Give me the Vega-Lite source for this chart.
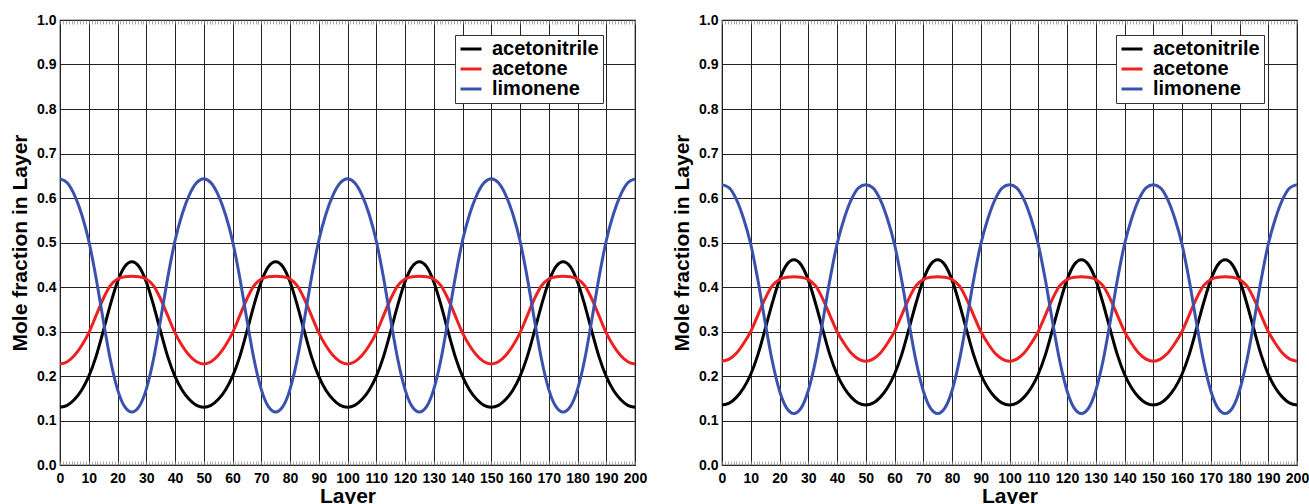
{
  "$schema": "https://vega.github.io/schema/vega-lite/v6.json",
  "padding": {"left": 8, "top": 12, "right": 5, "bottom": 2},
  "bounds": "flush",
  "spacing": 87,
  "background": "white",
  "config": {
    "font": "Liberation Sans",
    "view": {"stroke": "#000", "strokeWidth": 1.2},
    "axis": {
      "gridColor": "#222", "gridWidth": 1, "gridOpacity": 1,
      "labelColor": "#000", "titleColor": "#000",
      "labelFontWeight": "bold", "titleFontWeight": "bold",
      "labelFont": "Liberation Sans", "labelFontSize": 14,
      "titleFont": "Liberation Sans", "titleFontSize": 21, "domain": false
    }
  },
  "datasets": {
    "left": [
      {"layer":0,"acetonitrile":0.13,"acetone":0.227,"limonene":0.643},
      {"layer":2.5,"acetonitrile":0.134,"acetone":0.232,"limonene":0.634},
      {"layer":5,"acetonitrile":0.147,"acetone":0.246,"limonene":0.607},
      {"layer":7.5,"acetonitrile":0.168,"acetone":0.268,"limonene":0.564},
      {"layer":10,"acetonitrile":0.199,"acetone":0.297,"limonene":0.504},
      {"layer":12.5,"acetonitrile":0.243,"acetone":0.335,"limonene":0.422},
      {"layer":15,"acetonitrile":0.3,"acetone":0.373,"limonene":0.327},
      {"layer":17.5,"acetonitrile":0.36,"acetone":0.403,"limonene":0.237},
      {"layer":20,"acetonitrile":0.412,"acetone":0.418,"limonene":0.17},
      {"layer":22.5,"acetonitrile":0.446,"acetone":0.423,"limonene":0.131},
      {"layer":25,"acetonitrile":0.457,"acetone":0.424,"limonene":0.119},
      {"layer":27.5,"acetonitrile":0.446,"acetone":0.423,"limonene":0.131},
      {"layer":30,"acetonitrile":0.412,"acetone":0.418,"limonene":0.17},
      {"layer":32.5,"acetonitrile":0.36,"acetone":0.403,"limonene":0.237},
      {"layer":35,"acetonitrile":0.3,"acetone":0.373,"limonene":0.327},
      {"layer":37.5,"acetonitrile":0.243,"acetone":0.335,"limonene":0.422},
      {"layer":40,"acetonitrile":0.199,"acetone":0.297,"limonene":0.504},
      {"layer":42.5,"acetonitrile":0.168,"acetone":0.268,"limonene":0.564},
      {"layer":45,"acetonitrile":0.147,"acetone":0.246,"limonene":0.607},
      {"layer":47.5,"acetonitrile":0.134,"acetone":0.232,"limonene":0.634},
      {"layer":50,"acetonitrile":0.13,"acetone":0.227,"limonene":0.643},
      {"layer":52.5,"acetonitrile":0.134,"acetone":0.232,"limonene":0.634},
      {"layer":55,"acetonitrile":0.147,"acetone":0.246,"limonene":0.607},
      {"layer":57.5,"acetonitrile":0.168,"acetone":0.268,"limonene":0.564},
      {"layer":60,"acetonitrile":0.199,"acetone":0.297,"limonene":0.504},
      {"layer":62.5,"acetonitrile":0.243,"acetone":0.335,"limonene":0.422},
      {"layer":65,"acetonitrile":0.3,"acetone":0.373,"limonene":0.327},
      {"layer":67.5,"acetonitrile":0.36,"acetone":0.403,"limonene":0.237},
      {"layer":70,"acetonitrile":0.412,"acetone":0.418,"limonene":0.17},
      {"layer":72.5,"acetonitrile":0.446,"acetone":0.423,"limonene":0.131},
      {"layer":75,"acetonitrile":0.457,"acetone":0.424,"limonene":0.119},
      {"layer":77.5,"acetonitrile":0.446,"acetone":0.423,"limonene":0.131},
      {"layer":80,"acetonitrile":0.412,"acetone":0.418,"limonene":0.17},
      {"layer":82.5,"acetonitrile":0.36,"acetone":0.403,"limonene":0.237},
      {"layer":85,"acetonitrile":0.3,"acetone":0.373,"limonene":0.327},
      {"layer":87.5,"acetonitrile":0.243,"acetone":0.335,"limonene":0.422},
      {"layer":90,"acetonitrile":0.199,"acetone":0.297,"limonene":0.504},
      {"layer":92.5,"acetonitrile":0.168,"acetone":0.268,"limonene":0.564},
      {"layer":95,"acetonitrile":0.147,"acetone":0.246,"limonene":0.607},
      {"layer":97.5,"acetonitrile":0.134,"acetone":0.232,"limonene":0.634},
      {"layer":100,"acetonitrile":0.13,"acetone":0.227,"limonene":0.643},
      {"layer":102.5,"acetonitrile":0.134,"acetone":0.232,"limonene":0.634},
      {"layer":105,"acetonitrile":0.147,"acetone":0.246,"limonene":0.607},
      {"layer":107.5,"acetonitrile":0.168,"acetone":0.268,"limonene":0.564},
      {"layer":110,"acetonitrile":0.199,"acetone":0.297,"limonene":0.504},
      {"layer":112.5,"acetonitrile":0.243,"acetone":0.335,"limonene":0.422},
      {"layer":115,"acetonitrile":0.3,"acetone":0.373,"limonene":0.327},
      {"layer":117.5,"acetonitrile":0.36,"acetone":0.403,"limonene":0.237},
      {"layer":120,"acetonitrile":0.412,"acetone":0.418,"limonene":0.17},
      {"layer":122.5,"acetonitrile":0.446,"acetone":0.423,"limonene":0.131},
      {"layer":125,"acetonitrile":0.457,"acetone":0.424,"limonene":0.119},
      {"layer":127.5,"acetonitrile":0.446,"acetone":0.423,"limonene":0.131},
      {"layer":130,"acetonitrile":0.412,"acetone":0.418,"limonene":0.17},
      {"layer":132.5,"acetonitrile":0.36,"acetone":0.403,"limonene":0.237},
      {"layer":135,"acetonitrile":0.3,"acetone":0.373,"limonene":0.327},
      {"layer":137.5,"acetonitrile":0.243,"acetone":0.335,"limonene":0.422},
      {"layer":140,"acetonitrile":0.199,"acetone":0.297,"limonene":0.504},
      {"layer":142.5,"acetonitrile":0.168,"acetone":0.268,"limonene":0.564},
      {"layer":145,"acetonitrile":0.147,"acetone":0.246,"limonene":0.607},
      {"layer":147.5,"acetonitrile":0.134,"acetone":0.232,"limonene":0.634},
      {"layer":150,"acetonitrile":0.13,"acetone":0.227,"limonene":0.643},
      {"layer":152.5,"acetonitrile":0.134,"acetone":0.232,"limonene":0.634},
      {"layer":155,"acetonitrile":0.147,"acetone":0.246,"limonene":0.607},
      {"layer":157.5,"acetonitrile":0.168,"acetone":0.268,"limonene":0.564},
      {"layer":160,"acetonitrile":0.199,"acetone":0.297,"limonene":0.504},
      {"layer":162.5,"acetonitrile":0.243,"acetone":0.335,"limonene":0.422},
      {"layer":165,"acetonitrile":0.3,"acetone":0.373,"limonene":0.327},
      {"layer":167.5,"acetonitrile":0.36,"acetone":0.403,"limonene":0.237},
      {"layer":170,"acetonitrile":0.412,"acetone":0.418,"limonene":0.17},
      {"layer":172.5,"acetonitrile":0.446,"acetone":0.423,"limonene":0.131},
      {"layer":175,"acetonitrile":0.457,"acetone":0.424,"limonene":0.119},
      {"layer":177.5,"acetonitrile":0.446,"acetone":0.423,"limonene":0.131},
      {"layer":180,"acetonitrile":0.412,"acetone":0.418,"limonene":0.17},
      {"layer":182.5,"acetonitrile":0.36,"acetone":0.403,"limonene":0.237},
      {"layer":185,"acetonitrile":0.3,"acetone":0.373,"limonene":0.327},
      {"layer":187.5,"acetonitrile":0.243,"acetone":0.335,"limonene":0.422},
      {"layer":190,"acetonitrile":0.199,"acetone":0.297,"limonene":0.504},
      {"layer":192.5,"acetonitrile":0.168,"acetone":0.268,"limonene":0.564},
      {"layer":195,"acetonitrile":0.147,"acetone":0.246,"limonene":0.607},
      {"layer":197.5,"acetonitrile":0.134,"acetone":0.232,"limonene":0.634},
      {"layer":200,"acetonitrile":0.13,"acetone":0.227,"limonene":0.643}
    ],
    "right": [
      {"layer":0,"acetonitrile":0.135,"acetone":0.233,"limonene":0.63},
      {"layer":2.5,"acetonitrile":0.139,"acetone":0.238,"limonene":0.623},
      {"layer":5,"acetonitrile":0.152,"acetone":0.251,"limonene":0.597},
      {"layer":7.5,"acetonitrile":0.173,"acetone":0.273,"limonene":0.554},
      {"layer":10,"acetonitrile":0.204,"acetone":0.3,"limonene":0.496},
      {"layer":12.5,"acetonitrile":0.248,"acetone":0.337,"limonene":0.415},
      {"layer":15,"acetonitrile":0.305,"acetone":0.374,"limonene":0.321},
      {"layer":17.5,"acetonitrile":0.364,"acetone":0.403,"limonene":0.233},
      {"layer":20,"acetonitrile":0.416,"acetone":0.417,"limonene":0.167},
      {"layer":22.5,"acetonitrile":0.45,"acetone":0.422,"limonene":0.128},
      {"layer":25,"acetonitrile":0.461,"acetone":0.423,"limonene":0.116},
      {"layer":27.5,"acetonitrile":0.45,"acetone":0.422,"limonene":0.128},
      {"layer":30,"acetonitrile":0.416,"acetone":0.417,"limonene":0.167},
      {"layer":32.5,"acetonitrile":0.364,"acetone":0.403,"limonene":0.233},
      {"layer":35,"acetonitrile":0.305,"acetone":0.374,"limonene":0.321},
      {"layer":37.5,"acetonitrile":0.248,"acetone":0.337,"limonene":0.415},
      {"layer":40,"acetonitrile":0.204,"acetone":0.3,"limonene":0.496},
      {"layer":42.5,"acetonitrile":0.173,"acetone":0.273,"limonene":0.554},
      {"layer":45,"acetonitrile":0.152,"acetone":0.251,"limonene":0.597},
      {"layer":47.5,"acetonitrile":0.139,"acetone":0.238,"limonene":0.623},
      {"layer":50,"acetonitrile":0.135,"acetone":0.233,"limonene":0.63},
      {"layer":52.5,"acetonitrile":0.139,"acetone":0.238,"limonene":0.623},
      {"layer":55,"acetonitrile":0.152,"acetone":0.251,"limonene":0.597},
      {"layer":57.5,"acetonitrile":0.173,"acetone":0.273,"limonene":0.554},
      {"layer":60,"acetonitrile":0.204,"acetone":0.3,"limonene":0.496},
      {"layer":62.5,"acetonitrile":0.248,"acetone":0.337,"limonene":0.415},
      {"layer":65,"acetonitrile":0.305,"acetone":0.374,"limonene":0.321},
      {"layer":67.5,"acetonitrile":0.364,"acetone":0.403,"limonene":0.233},
      {"layer":70,"acetonitrile":0.416,"acetone":0.417,"limonene":0.167},
      {"layer":72.5,"acetonitrile":0.45,"acetone":0.422,"limonene":0.128},
      {"layer":75,"acetonitrile":0.461,"acetone":0.423,"limonene":0.116},
      {"layer":77.5,"acetonitrile":0.45,"acetone":0.422,"limonene":0.128},
      {"layer":80,"acetonitrile":0.416,"acetone":0.417,"limonene":0.167},
      {"layer":82.5,"acetonitrile":0.364,"acetone":0.403,"limonene":0.233},
      {"layer":85,"acetonitrile":0.305,"acetone":0.374,"limonene":0.321},
      {"layer":87.5,"acetonitrile":0.248,"acetone":0.337,"limonene":0.415},
      {"layer":90,"acetonitrile":0.204,"acetone":0.3,"limonene":0.496},
      {"layer":92.5,"acetonitrile":0.173,"acetone":0.273,"limonene":0.554},
      {"layer":95,"acetonitrile":0.152,"acetone":0.251,"limonene":0.597},
      {"layer":97.5,"acetonitrile":0.139,"acetone":0.238,"limonene":0.623},
      {"layer":100,"acetonitrile":0.135,"acetone":0.233,"limonene":0.63},
      {"layer":102.5,"acetonitrile":0.139,"acetone":0.238,"limonene":0.623},
      {"layer":105,"acetonitrile":0.152,"acetone":0.251,"limonene":0.597},
      {"layer":107.5,"acetonitrile":0.173,"acetone":0.273,"limonene":0.554},
      {"layer":110,"acetonitrile":0.204,"acetone":0.3,"limonene":0.496},
      {"layer":112.5,"acetonitrile":0.248,"acetone":0.337,"limonene":0.415},
      {"layer":115,"acetonitrile":0.305,"acetone":0.374,"limonene":0.321},
      {"layer":117.5,"acetonitrile":0.364,"acetone":0.403,"limonene":0.233},
      {"layer":120,"acetonitrile":0.416,"acetone":0.417,"limonene":0.167},
      {"layer":122.5,"acetonitrile":0.45,"acetone":0.422,"limonene":0.128},
      {"layer":125,"acetonitrile":0.461,"acetone":0.423,"limonene":0.116},
      {"layer":127.5,"acetonitrile":0.45,"acetone":0.422,"limonene":0.128},
      {"layer":130,"acetonitrile":0.416,"acetone":0.417,"limonene":0.167},
      {"layer":132.5,"acetonitrile":0.364,"acetone":0.403,"limonene":0.233},
      {"layer":135,"acetonitrile":0.305,"acetone":0.374,"limonene":0.321},
      {"layer":137.5,"acetonitrile":0.248,"acetone":0.337,"limonene":0.415},
      {"layer":140,"acetonitrile":0.204,"acetone":0.3,"limonene":0.496},
      {"layer":142.5,"acetonitrile":0.173,"acetone":0.273,"limonene":0.554},
      {"layer":145,"acetonitrile":0.152,"acetone":0.251,"limonene":0.597},
      {"layer":147.5,"acetonitrile":0.139,"acetone":0.238,"limonene":0.623},
      {"layer":150,"acetonitrile":0.135,"acetone":0.233,"limonene":0.63},
      {"layer":152.5,"acetonitrile":0.139,"acetone":0.238,"limonene":0.623},
      {"layer":155,"acetonitrile":0.152,"acetone":0.251,"limonene":0.597},
      {"layer":157.5,"acetonitrile":0.173,"acetone":0.273,"limonene":0.554},
      {"layer":160,"acetonitrile":0.204,"acetone":0.3,"limonene":0.496},
      {"layer":162.5,"acetonitrile":0.248,"acetone":0.337,"limonene":0.415},
      {"layer":165,"acetonitrile":0.305,"acetone":0.374,"limonene":0.321},
      {"layer":167.5,"acetonitrile":0.364,"acetone":0.403,"limonene":0.233},
      {"layer":170,"acetonitrile":0.416,"acetone":0.417,"limonene":0.167},
      {"layer":172.5,"acetonitrile":0.45,"acetone":0.422,"limonene":0.128},
      {"layer":175,"acetonitrile":0.461,"acetone":0.423,"limonene":0.116},
      {"layer":177.5,"acetonitrile":0.45,"acetone":0.422,"limonene":0.128},
      {"layer":180,"acetonitrile":0.416,"acetone":0.417,"limonene":0.167},
      {"layer":182.5,"acetonitrile":0.364,"acetone":0.403,"limonene":0.233},
      {"layer":185,"acetonitrile":0.305,"acetone":0.374,"limonene":0.321},
      {"layer":187.5,"acetonitrile":0.248,"acetone":0.337,"limonene":0.415},
      {"layer":190,"acetonitrile":0.204,"acetone":0.3,"limonene":0.496},
      {"layer":192.5,"acetonitrile":0.173,"acetone":0.273,"limonene":0.554},
      {"layer":195,"acetonitrile":0.152,"acetone":0.251,"limonene":0.597},
      {"layer":197.5,"acetonitrile":0.139,"acetone":0.238,"limonene":0.623},
      {"layer":200,"acetonitrile":0.135,"acetone":0.233,"limonene":0.63}
    ]
  },
  "hconcat": [
    {
      "width": 575, "height": 445,
      "data": {"name": "left"},
      "transform": [{"fold": ["acetonitrile", "acetone", "limonene"], "as": ["species", "fraction"]}],
      "layer": [
        {
          "mark": {"type": "line", "strokeWidth": 3, "interpolate": "monotone"},
          "encoding": {
            "x": {"field": "layer", "type": "quantitative", "scale": {"domain": [0, 200], "nice": false},
              "axis": {"title": "Layer", "values": [0,10,20,30,40,50,60,70,80,90,100,110,120,130,140,150,160,170,180,190,200],
                "labelOverlap": false, "labelFlush": false, "ticks": false, "labelPadding": 6, "titlePadding": 0}},
            "y": {"field": "fraction", "type": "quantitative", "scale": {"domain": [0, 1], "nice": false},
              "axis": {"title": "Mole fraction in Layer", "values": [0,0.1,0.2,0.3,0.4,0.5,0.6,0.7,0.8,0.9,1.0], "format": ".1f",
                "ticks": false, "labelPadding": 4, "titlePadding": 6, "labelFlush": false}},
            "color": {"field": "species", "type": "nominal",
              "scale": {"domain": ["acetonitrile", "acetone", "limonene"], "range": ["#000000", "#ee2020", "#3a52ae"]},
              "legend": {"title": null, "orient": "none", "legendX": 395, "legendY": 15,
                "labelFont": "Liberation Sans", "labelFontSize": 20, "labelFontWeight": "bold", "labelColor": "#000",
                "symbolType": "stroke", "symbolStrokeWidth": 3, "symbolSize": 441, "labelOffset": 9,
                "clipHeight": 20,
                "strokeColor": "#333", "fillColor": "#fff", "padding": 4, "rowPadding": 0, "labelLimit": 300}}
          }
        },
        {
          "mark": {"type": "point", "opacity": 0},
          "encoding": {
            "x": {"field": "layer", "type": "quantitative",
              "axis": {"orient": "top", "tickCount": 200, "labels": false, "grid": false, "title": null,
                "tickSize": -4, "tickColor": "#888", "tickWidth": 0.7}},
            "y": {"field": "fraction", "type": "quantitative"}
          }
        },
        {
          "mark": {"type": "point", "opacity": 0},
          "encoding": {
            "x": {"field": "layer", "type": "quantitative",
              "axis": {"orient": "bottom", "tickCount": 200, "labels": false, "grid": false, "title": null,
                "tickSize": -4, "tickColor": "#888", "tickWidth": 0.7}},
            "y": {"field": "fraction", "type": "quantitative"}
          }
        }
      ],
      "resolve": {"axis": {"x": "independent"}}
    },
    {
      "width": 575, "height": 445,
      "data": {"name": "right"},
      "transform": [{"fold": ["acetonitrile", "acetone", "limonene"], "as": ["species", "fraction"]}],
      "layer": [
        {
          "mark": {"type": "line", "strokeWidth": 3, "interpolate": "monotone"},
          "encoding": {
            "x": {"field": "layer", "type": "quantitative", "scale": {"domain": [0, 200], "nice": false},
              "axis": {"title": "Layer", "values": [0,10,20,30,40,50,60,70,80,90,100,110,120,130,140,150,160,170,180,190,200],
                "labelOverlap": false, "labelFlush": false, "ticks": false, "labelPadding": 6, "titlePadding": 0}},
            "y": {"field": "fraction", "type": "quantitative", "scale": {"domain": [0, 1], "nice": false},
              "axis": {"title": "Mole fraction in Layer", "values": [0,0.1,0.2,0.3,0.4,0.5,0.6,0.7,0.8,0.9,1.0], "format": ".1f",
                "ticks": false, "labelPadding": 4, "titlePadding": 6, "labelFlush": false}},
            "color": {"field": "species", "type": "nominal",
              "scale": {"domain": ["acetonitrile", "acetone", "limonene"], "range": ["#000000", "#ee2020", "#3a52ae"]},
              "legend": {"title": null, "orient": "none", "legendX": 394, "legendY": 15,
                "labelFont": "Liberation Sans", "labelFontSize": 20, "labelFontWeight": "bold", "labelColor": "#000",
                "symbolType": "stroke", "symbolStrokeWidth": 3, "symbolSize": 441, "labelOffset": 9,
                "clipHeight": 20,
                "strokeColor": "#333", "fillColor": "#fff", "padding": 4, "rowPadding": 0, "labelLimit": 300}}
          }
        },
        {
          "mark": {"type": "point", "opacity": 0},
          "encoding": {
            "x": {"field": "layer", "type": "quantitative",
              "axis": {"orient": "top", "tickCount": 200, "labels": false, "grid": false, "title": null,
                "tickSize": -4, "tickColor": "#888", "tickWidth": 0.7}},
            "y": {"field": "fraction", "type": "quantitative"}
          }
        },
        {
          "mark": {"type": "point", "opacity": 0},
          "encoding": {
            "x": {"field": "layer", "type": "quantitative",
              "axis": {"orient": "bottom", "tickCount": 200, "labels": false, "grid": false, "title": null,
                "tickSize": -4, "tickColor": "#888", "tickWidth": 0.7}},
            "y": {"field": "fraction", "type": "quantitative"}
          }
        }
      ],
      "resolve": {"axis": {"x": "independent"}}
    }
  ],
  "resolve": {"legend": {"color": "independent"}, "scale": {"color": "independent"}}
}
